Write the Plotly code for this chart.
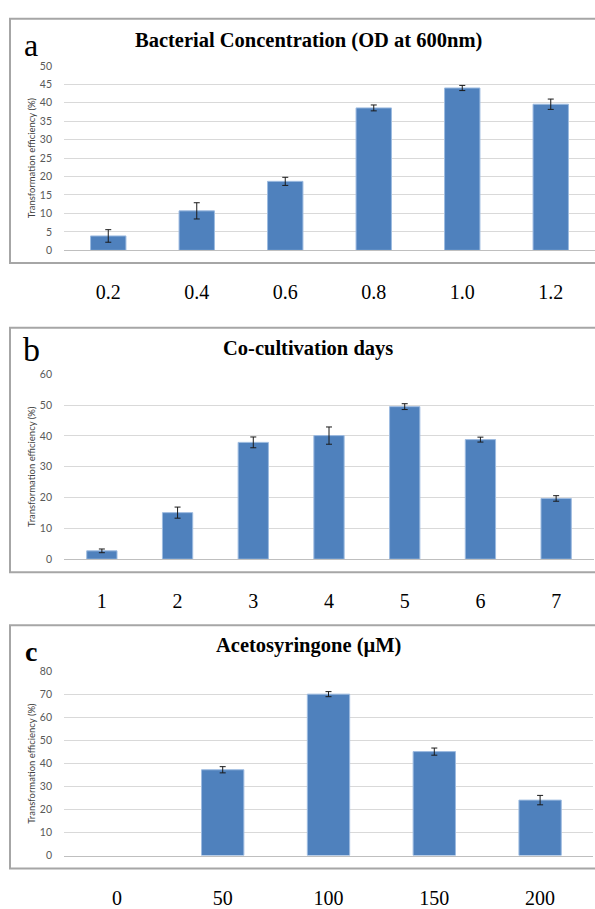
import plotly.graph_objects as go

# ---- data ----
od_labels = ["0.2", "0.4", "0.6", "0.8", "1.0", "1.2"]
od_values = [3.9, 10.7, 18.7, 38.6, 44.0, 39.6]
od_errors = [1.7, 2.2, 1.1, 0.8, 0.7, 1.4]

days_labels = ["1", "2", "3", "4", "5", "6", "7"]
days_values = [2.7, 15.1, 37.9, 40.1, 49.5, 38.8, 19.7]
days_errors = [0.6, 1.8, 1.75, 2.8, 0.95, 0.8, 0.9]

as_labels = ["0", "50", "100", "150", "200"]
as_values = [0, 37.3, 70.2, 45.2, 24.1]
as_errors = [0, 1.35, 1.1, 1.55, 2.05]

titles = ["Bacterial Concentration (OD at 600nm)", "Co-cultivation days", "Acetosyringone (\u00b5M)"]
letters = ["a", "b", "c"]
y_title = "Transformation efficiency (%)"

W, H = 595, 909
def px(x):
    return x / W
def py(y):
    return 1 - y / H

BAR = "#4f81bd"
BAR_EDGE = "#9dbbe0"
SERIF = "Liberation Serif, Times New Roman, serif"
SANS = "Lato, Liberation Sans, Arial, sans-serif"

panels = [
    dict(labels=od_labels, values=od_values, errors=od_errors, ymax=50, dtick=5,
         xdom=(64, 595), ytop=61, ybot=249, box=(13, 262), title_y=35, letter_y=40,
         letter_size=32, letter_bold=False),
    dict(labels=days_labels, values=days_values, errors=days_errors, ymax=60, dtick=10,
         xdom=(64, 594), ytop=375.3, ybot=563.7, box=(328, 577), title_y=349, letter_y=350,
         letter_size=34, letter_bold=False),
    dict(labels=as_labels, values=as_values, errors=as_errors, ymax=80, dtick=10,
         xdom=(64, 593), ytop=678.3, ybot=865.7, box=(631, 879), title_y=652, letter_y=658,
         letter_size=28, letter_bold=True),
]

fig = go.Figure()
shapes = []
annotations = []
layout_axes = {}

for i, p in enumerate(panels):
    n = i + 1
    xa = "x" if n == 1 else f"x{n}"
    ya = "y" if n == 1 else f"y{n}"
    # zero-height bars are not drawn (no bar, no error bar), as in the reference
    yvals = [v if v else None for v in p["values"]]
    errs = [e if v else None for v, e in zip(p["values"], p["errors"])]
    fig.add_trace(go.Bar(
        x=p["labels"], y=yvals, xaxis=xa, yaxis=ya,
        width=0.4,
        marker=dict(color=BAR, line=dict(color=BAR_EDGE, width=1)),
        error_y=dict(type="data", array=errs, visible=True,
                     color="#1a1a1a", thickness=1, width=3),
        showlegend=False,
    ))
    xkey = "xaxis" if n == 1 else f"xaxis{n}"
    ykey = "yaxis" if n == 1 else f"yaxis{n}"
    layout_axes[xkey] = dict(
        domain=[px(p["xdom"][0]), min(1, px(p["xdom"][1]))],
        anchor=ya, type="category", categoryorder="array", categoryarray=p["labels"],
        range=[-0.5, len(p["labels"]) - 0.5],
        showgrid=False, showline=True, linecolor="#bfbfbf", linewidth=1,
        ticks="", tickfont=dict(family=SERIF, size=20, color="#000000"),
        ticklabelstandoff=24, fixedrange=True,
    )
    layout_axes[ykey] = dict(
        domain=[py(p["ybot"]), py(p["ytop"])],
        anchor=xa, range=[0, p["ymax"]], dtick=p["dtick"],
        showgrid=True, gridcolor="#d9d9d9", gridwidth=1,
        zeroline=False, showline=False, ticks="",
        tickfont=dict(family=SANS, size=10.5, color="#595959"),
        ticklabelstandoff=11,
        title=dict(text=y_title, font=dict(family=SANS, size=9.5, color="#404040"), standoff=2),
    )
    # panel frame
    shapes.append(dict(type="rect", xref="paper", yref="paper",
                       x0=px(10), x1=1.02, y0=py(p["box"][1]), y1=py(p["box"][0]),
                       line=dict(color="#a6a6a6", width=2), fillcolor="rgba(0,0,0,0)"))
    annotations.append(dict(text=f"<b>{titles[i]}</b>", xref="paper", yref="paper",
                            x=px(308), y=py(p["title_y"]), xanchor="center", yanchor="middle",
                            showarrow=False, font=dict(family=SERIF, size=20.5, color="#000000")))
    ltxt = f"<b>{letters[i]}</b>" if p["letter_bold"] else letters[i]
    annotations.append(dict(text=ltxt, xref="paper", yref="paper",
                            x=px(31), y=py(p["letter_y"]), xanchor="center", yanchor="middle",
                            showarrow=False, font=dict(family=SERIF, size=p["letter_size"], color="#000000")))

fig.update_layout(
    width=W, height=H,
    margin=dict(l=0, r=0, t=0, b=0),
    paper_bgcolor="white", plot_bgcolor="white",
    shapes=shapes, annotations=annotations,
    bargap=0.6,
    **layout_axes,
)

fig.write_html("out.html", config={"displayModeBar": False},
               post_script="document.body.style.margin='0';document.body.style.overflow='hidden';")
